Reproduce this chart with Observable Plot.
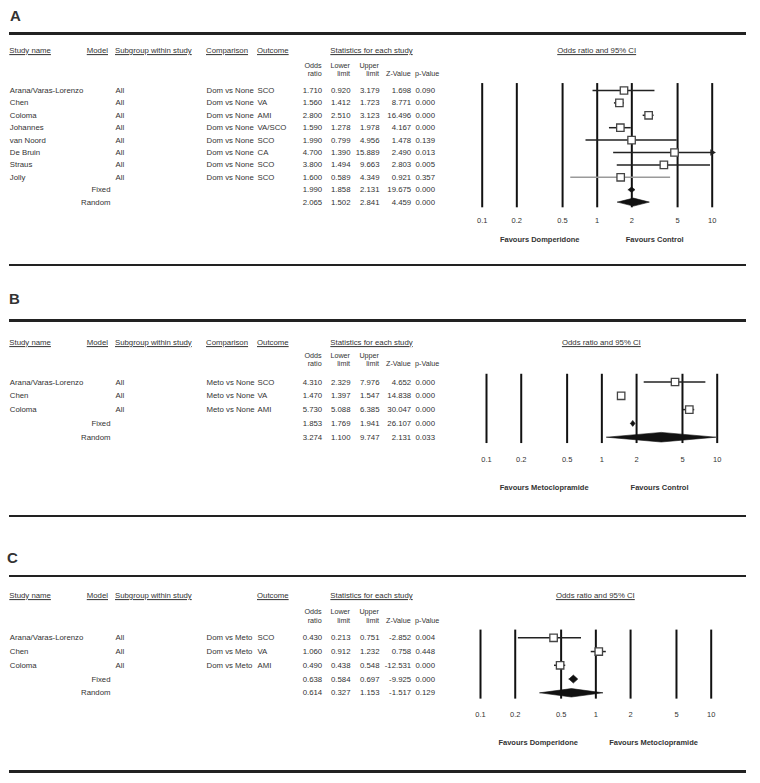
<!DOCTYPE html>
<html><head><meta charset="utf-8">
<script src="https://cdn.jsdelivr.net/npm/d3@7"></script>
<script src="https://cdn.jsdelivr.net/npm/@observablehq/plot@0.6"></script>
<style>
html,body{margin:0;padding:0;background:#fff;}
#fig{position:relative;width:760px;height:783px;overflow:hidden;font-family:"Liberation Sans",Arial,sans-serif;color:#333;}
.abs{position:absolute;white-space:nowrap;font-size:7.8px;line-height:1;}
.sub{font-size:7.2px;}
.hdr{text-decoration:underline;}
.letter{position:absolute;font-size:15px;font-weight:bold;line-height:1;color:#333;}
.rule{position:absolute;left:9px;width:737px;height:2.6px;background:#222;}
</style></head>
<body><div id="fig"></div>
<script>
// ---------- DATA ----------
const tickValues = [0.1, 0.2, 0.5, 1, 2, 5, 10];
const tickLabels = ["0.1", "0.2", "0.5", "1", "2", "5", "10"];
const summaryModels = ["Fixed", "Random"];

// Panel A: Domperidone vs none
const studiesA = ["Arana/Varas-Lorenzo", "Chen", "Coloma", "Johannes", "van Noord", "De Bruin", "Straus", "Jolly"];
const comparisonA = ["Dom vs None", "Dom vs None", "Dom vs None", "Dom vs None", "Dom vs None", "Dom vs None", "Dom vs None", "Dom vs None"];
const outcomeA = ["SCO", "VA", "AMI", "VA/SCO", "SCO", "CA", "SCO", "SCO"];
const orA = [1.710, 1.560, 2.800, 1.590, 1.990, 4.700, 3.800, 1.600];
const lowerA = [0.920, 1.412, 2.510, 1.278, 0.799, 1.390, 1.494, 0.589];
const upperA = [3.179, 1.723, 3.123, 1.978, 4.956, 15.889, 9.663, 4.349];
const zA = [1.698, 8.771, 16.496, 4.167, 1.478, 2.490, 2.803, 0.921];
const pA = [0.090, 0.000, 0.000, 0.000, 0.139, 0.013, 0.005, 0.357];
const sumOrA = [1.990, 2.065];
const sumLowerA = [1.858, 1.502];
const sumUpperA = [2.131, 2.841];
const sumZA = [19.675, 4.459];
const sumPA = [0.000, 0.000];
const favoursA = ["Favours Domperidone", "Favours Control"];

// Panel B: Metoclopramide vs none
const studiesB = ["Arana/Varas-Lorenzo", "Chen", "Coloma"];
const comparisonB = ["Meto vs None", "Meto vs None", "Meto vs None"];
const outcomeB = ["SCO", "VA", "AMI"];
const orB = [4.310, 1.470, 5.730];
const lowerB = [2.329, 1.397, 5.088];
const upperB = [7.976, 1.547, 6.385];
const zB = [4.652, 14.838, 30.047];
const pB = [0.000, 0.000, 0.000];
const sumOrB = [1.853, 3.274];
const sumLowerB = [1.769, 1.100];
const sumUpperB = [1.941, 9.747];
const sumZB = [26.107, 2.131];
const sumPB = [0.000, 0.033];
const favoursB = ["Favours Metoclopramide", "Favours Control"];

// Panel C: Domperidone vs metoclopramide
const studiesC = ["Arana/Varas-Lorenzo", "Chen", "Coloma"];
const comparisonC = ["Dom vs Meto", "Dom vs Meto", "Dom vs Meto"];
const outcomeC = ["SCO", "VA", "AMI"];
const orC = [0.430, 1.060, 0.490];
const lowerC = [0.213, 0.912, 0.438];
const upperC = [0.751, 1.232, 0.548];
const zC = [-2.852, 0.758, -12.531];
const pC = [0.004, 0.448, 0.000];
const sumOrC = [0.638, 0.614];
const sumLowerC = [0.584, 0.327];
const sumUpperC = [0.697, 1.153];
const sumZC = [-9.925, -1.517];
const sumPC = [0.000, 0.129];
const favoursC = ["Favours Domperidone", "Favours Metoclopramide"];

// ---------- LAYOUT ----------
const panels = [
  {letter: "A", studies: studiesA, comp: comparisonA, outcome: outcomeA, or: orA, lo: lowerA, hi: upperA, z: zA, p: pA,
   sOr: sumOrA, sLo: sumLowerA, sHi: sumUpperA, sZ: sumZA, sP: sumPA, favours: favoursA, showComparison: true,
   L: {letterX: 10, letterY: 15, ruleTop: 33.3, ruleBottom: 265, hdrY: 51, oddsY: 65.5, ratioY: 74,
       row0: 90, rowStep: 12.4, x0: 481.7, x1: 711.7, tickY: 220, favY: 239, fixH: 2.8, randH: 4}},
  {letter: "B", studies: studiesB, comp: comparisonB, outcome: outcomeB, or: orB, lo: lowerB, hi: upperB, z: zB, p: pB,
   sOr: sumOrB, sLo: sumLowerB, sHi: sumUpperB, sZ: sumZB, sP: sumPB, favours: favoursB, showComparison: true,
   L: {letterX: 9, letterY: 298, ruleTop: 320.7, ruleBottom: 516, hdrY: 342.5, oddsY: 355.5, ratioY: 364,
       row0: 381.5, rowStep: 13.8, x0: 486, x1: 716.7, tickY: 459.3, favY: 486.7, fixH: 3, randH: 4.8}},
  {letter: "C", studies: studiesC, comp: comparisonC, outcome: outcomeC, or: orC, lo: lowerC, hi: upperC, z: zC, p: pC,
   sOr: sumOrC, sLo: sumLowerC, sHi: sumUpperC, sZ: sumZC, sP: sumPC, favours: favoursC, showComparison: false,
   L: {letterX: 7, letterY: 557.7, ruleTop: 576, ruleBottom: 771.7, hdrY: 596, oddsY: 612, ratioY: 620.5,
       row0: 637.3, rowStep: 13.75, x0: 480, x1: 710.7, tickY: 714.3, favY: 741.7, fixH: 4, randH: 4.2}}
];

const fig = document.getElementById("fig");
const FONT = "'Liberation Sans', Arial, sans-serif";

function label(text, x, y, anchor = "start", cls = "abs") {
  const el = document.createElement("div");
  el.className = cls;
  el.textContent = text;
  el.style.left = x + "px";
  el.style.top = y + "px";
  const tx = anchor === "middle" ? "-50%" : anchor === "end" ? "-100%" : "0";
  el.style.transform = `translate(${tx},-50%)`;
  fig.appendChild(el);
  return el;
}
function rule(y) {
  const el = document.createElement("div");
  el.className = "rule";
  el.style.top = (y - 1.3) + "px";
  fig.appendChild(el);
}

const greyLines = new Set(["Jolly"]);

for (const P of panels) {
  const L = P.L;
  const n = P.studies.length;
  const rows = [];
  for (let i = 0; i < n; i++) rows.push({i, kind: "study", name: P.studies[i], model: "", sub: "All", comp: P.comp[i], outcome: P.outcome[i], or: P.or[i], lo: P.lo[i], hi: P.hi[i], z: P.z[i], p: P.p[i]});
  for (let k = 0; k < 2; k++) rows.push({i: n + k, kind: summaryModels[k], name: "", model: summaryModels[k], sub: "", comp: "", outcome: "", or: P.sOr[k], lo: P.sLo[k], hi: P.sHi[k], z: P.sZ[k], p: P.sP[k]});
  const last = n + 1;
  const studyRows = rows.filter(d => d.kind === "study");
  const diamonds = [];
  rows.filter(d => d.kind !== "study").forEach(d => {
    const h = (d.kind === "Fixed" ? L.fixH : L.randH) / L.rowStep;
    diamonds.push({k: d.kind, x: d.lo, y: d.i}, {k: d.kind, x: d.or, y: d.i - h},
                  {k: d.kind, x: d.hi, y: d.i}, {k: d.kind, x: d.or, y: d.i + h}, {k: d.kind, x: d.lo, y: d.i});
  });
  const f3 = v => v.toFixed(3);
  const col = (text, dx, anchor) => Plot.text(rows, {y: "i", text, frameAnchor: "left", dx, textAnchor: anchor});
  const tickRowY = last + (L.tickY - (L.row0 + L.rowStep * last)) / L.rowStep;
  const favRowY = last + (L.favY - (L.row0 + L.rowStep * last)) / L.rowStep;
  const favData = [{x: Math.sqrt(tickValues[0] * 1), t: P.favours[0]}, {x: Math.sqrt(tickValues[tickValues.length - 1] * 1), t: P.favours[1]}];

  const plot = Plot.plot({
    width: 760, height: 783, margin: 0,
    x: {type: "log", domain: [tickValues[0], tickValues[tickValues.length - 1]], range: [L.x0, L.x1], clamp: true, axis: null},
    y: {type: "linear", domain: [0, last], range: [L.row0, L.row0 + L.rowStep * last], axis: null},
    style: {position: "absolute", left: "0px", top: "0px", background: "none", fontFamily: FONT, fontSize: "7.8px", color: "#333", overflow: "visible"},
    marks: [
      // table columns
      col("name", 9.3, "start"),
      col("model", 110, "end"),
      col("sub", 115, "start"),
      col("comp", 206, "start"),
      col("outcome", 257, "start"),
      col(d => f3(d.or), 321.7, "end"),
      col(d => f3(d.lo), 350, "end"),
      col(d => f3(d.hi), 379, "end"),
      col(d => f3(d.z), 410.7, "end"),
      col(d => f3(d.p), 415, "start"),
      // reference lines
      Plot.ruleX(tickValues, {x: d => d, y1: () => -0.56, y2: () => last + 0.46, stroke: "#111", strokeWidth: 2}),
      // confidence intervals
      Plot.ruleY(studyRows.filter(d => !greyLines.has(d.name)), {y: "i", x1: "lo", x2: "hi", stroke: "#222", strokeWidth: 1.5}),
      Plot.ruleY(studyRows.filter(d => greyLines.has(d.name)), {y: "i", x1: "lo", x2: "hi", stroke: "#9a9a9a", strokeWidth: 1.5}),
      Plot.dot(studyRows.filter(d => d.hi > tickValues[tickValues.length - 1]), {x: "hi", y: "i", symbol: "triangle", rotate: 90, r: 2.4, fill: "#222", stroke: "none"}),
      // study boxes
      Plot.dot(studyRows, {x: "or", y: "i", symbol: "square", r: 4.2, fill: "white", stroke: "#444", strokeWidth: 1.3}),
      // summary diamonds
      Plot.line(diamonds, {x: "x", y: "y", z: "k", fill: "#111", stroke: "#111", strokeWidth: 0.6, curve: "linear"}),
      // tick labels
      Plot.text(tickValues, {x: d => d, y: () => tickRowY, text: (d, i) => tickLabels[i], fontSize: 7.5}),
      // favours labels
      Plot.text(favData, {x: "x", y: () => favRowY, text: "t", fontWeight: "bold", fontSize: 7.5})
    ]
  });
  fig.appendChild(plot);

  // decorations
  const let_ = document.createElement("div");
  let_.className = "letter";
  let_.textContent = P.letter;
  let_.style.left = L.letterX + "px";
  let_.style.top = (L.letterY - 7.5) + "px";
  fig.appendChild(let_);
  rule(L.ruleTop);
  rule(L.ruleBottom);

  label("Study name", 9.3, L.hdrY, "start", "abs hdr");
  label("Model", 108, L.hdrY, "end", "abs hdr");
  label("Subgroup within study", 115, L.hdrY, "start", "abs hdr");
  if (P.showComparison) label("Comparison", 206, L.hdrY, "start", "abs hdr");
  label("Outcome", 257, L.hdrY, "start", "abs hdr");
  label("Statistics for each study", 371.5, L.hdrY, "middle", "abs hdr");
  label("Odds ratio and 95% CI", plot.scale("x").apply(1), L.hdrY, "middle", "abs hdr");
  label("Odds", 321.7, L.oddsY, "end", "abs sub");
  label("ratio", 321.7, L.ratioY, "end", "abs sub");
  label("Lower", 350, L.oddsY, "end", "abs sub");
  label("limit", 350, L.ratioY, "end", "abs sub");
  label("Upper", 379, L.oddsY, "end", "abs sub");
  label("limit", 379, L.ratioY, "end", "abs sub");
  label("Z-Value", 410.7, L.ratioY, "end", "abs sub");
  label("p-Value", 415, L.ratioY, "start", "abs sub");
}
</script>
</body></html>
